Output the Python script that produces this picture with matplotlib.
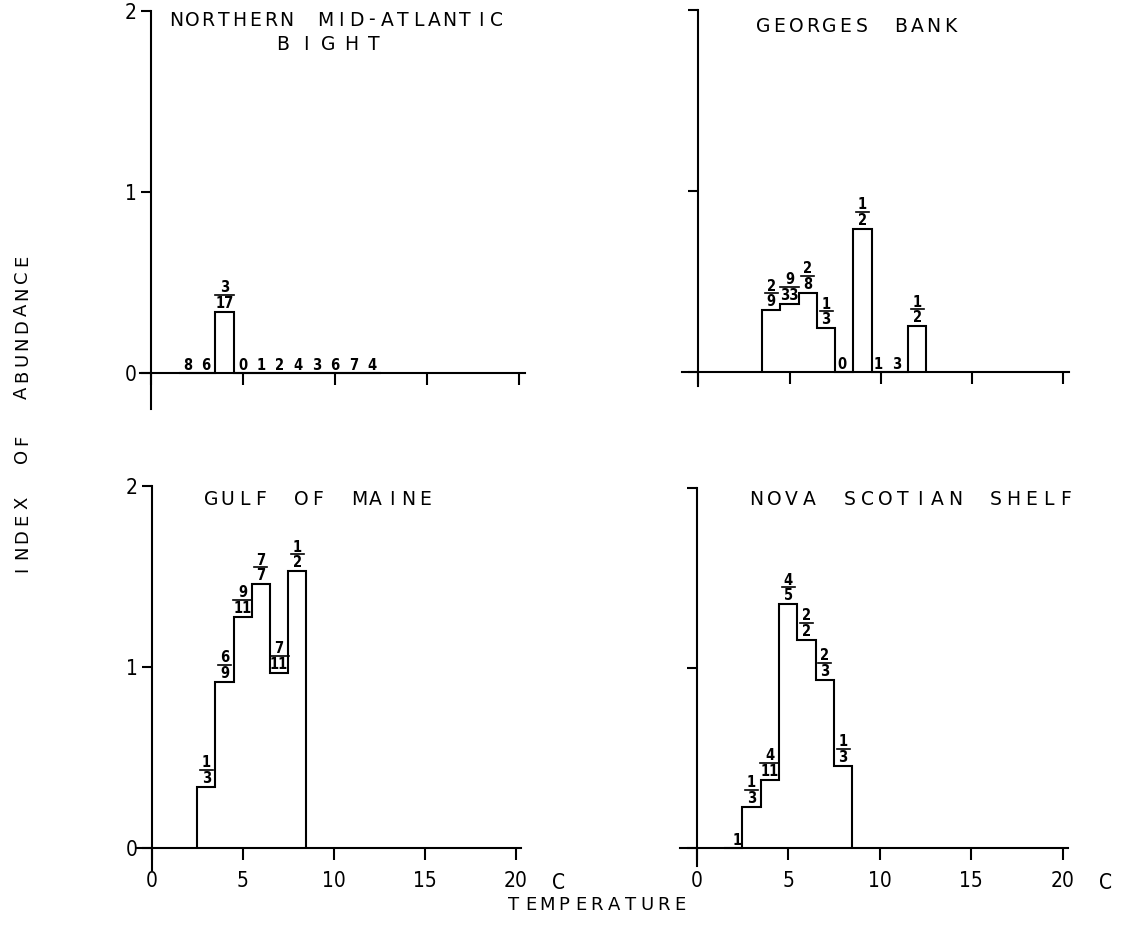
import matplotlib
matplotlib.use("Agg")
import matplotlib.pyplot as plt
import numpy as np

# ---------------- data ----------------
# Northern Mid-Atlantic Bight
nmab_centers = [2, 3, 4, 5, 6, 7, 8, 9, 10, 11, 12]
nmab_index = [0, 0, 0.34, 0, 0, 0, 0, 0, 0, 0, 0]
nmab_pos = [0, 0, 3, 0, 0, 0, 0, 0, 0, 0, 0]
nmab_tot = [8, 6, 17, 0, 1, 2, 4, 3, 6, 7, 4]

# Georges Bank
gb_centers = [4, 5, 6, 7, 8, 9, 10, 11, 12]
gb_index = [0.34, 0.375, 0.435, 0.24, 0, 0.79, 0, 0, 0.25]
gb_pos = [2, 9, 2, 1, 0, 1, 0, 0, 1]
gb_tot = [9, 33, 8, 3, 0, 2, 1, 3, 2]

# Gulf of Maine
gom_centers = [3, 4, 5, 6, 7, 8]
gom_index = [0.34, 0.92, 1.28, 1.46, 0.97, 1.53]
gom_pos = [1, 6, 9, 7, 7, 1]
gom_tot = [3, 9, 11, 7, 11, 2]

# Nova Scotian Shelf
nss_centers = [2, 3, 4, 5, 6, 7, 8]
nss_index = [0, 0.23, 0.38, 1.355, 1.16, 0.935, 0.46]
nss_pos = [0, 1, 4, 4, 2, 2, 1]
nss_tot = [1, 3, 11, 5, 2, 3, 3]

x_ticks = [0, 5, 10, 15, 20]
x_ticklabels = ["0", "5", "10", "15", "20"]
y_ticks = [0, 1, 2]
y_ticklabels = ["0", "1", "2"]

# ---------------- figure ----------------
W, H = 1122, 941
DPI = 100
fig = plt.figure(figsize=(W / DPI, H / DPI), dpi=DPI)
plt.rcParams["font.family"] = ["DejaVu Sans"]

STRETCH = "condensed"
LW = 1.5
XL = (-1.0, 21.0)
YL = (-0.3, 2.1)


def make_ax(x0, y0, sx, sy, xlabels, ylabels, ybottom=-0.15, xleft=-0.75):
    left = x0 + XL[0] * sx
    right = x0 + XL[1] * sx
    top = y0 - YL[1] * sy
    bottom = y0 - YL[0] * sy
    ax = fig.add_axes([left / W, 1 - bottom / H, (right - left) / W, (bottom - top) / H])
    ax.set_xlim(XL)
    ax.set_ylim(YL)
    ax.patch.set_alpha(0)
    for s in ("top", "right"):
        ax.spines[s].set_visible(False)
    ax.spines["left"].set_position(("data", 0))
    ax.spines["bottom"].set_position(("data", 0))
    ax.spines["left"].set_bounds(ybottom, 2)
    ax.spines["bottom"].set_bounds(xleft, 20.3)
    for s in ("left", "bottom"):
        ax.spines[s].set_linewidth(LW)
    ax.set_xticks(x_ticks)
    ax.set_yticks(y_ticks)
    ax.tick_params(axis="x", direction="out", length=8.5, width=LW, pad=8,
                   labelsize=15, labelbottom=xlabels)
    ax.tick_params(axis="y", direction="out", length=7, width=LW, pad=3,
                   labelsize=15, labelleft=ylabels)
    if xlabels:
        ax.set_xticklabels(x_ticklabels, fontstretch=STRETCH)
    if ylabels:
        ax.set_yticklabels(y_ticklabels, fontstretch=STRETCH)
    return ax


FFS = 10.5


def fraction(ax, cx, top, num, den, fs=FFS):
    X, Y = ax.transData.transform((cx, top))
    n = max(len(str(num)), len(str(den)))
    w = 6.0 * n + 7
    kw = dict(transform=None, ha="center", va="baseline", fontsize=fs,
              fontweight="bold", fontstretch=STRETCH)
    fig.text(X, Y + 4, str(den), **kw)
    fig.add_artist(plt.Line2D([X - w / 2, X + w / 2], [Y + 17, Y + 17],
                              transform=None, color="k", lw=1.2))
    fig.text(X, Y + 19.5, str(num), **kw)


def zero_label(ax, cx, tot, dx=0.0, fs=FFS):
    X, Y = ax.transData.transform((cx + dx, 0))
    fig.text(X, Y + 3, str(tot), transform=None, ha="center", va="baseline",
             fontsize=fs, fontweight="bold", fontstretch=STRETCH)


def draw_panel(ax, centers, index, pos, tot, zdx=0.0):
    c = np.asarray(centers, dtype=float)
    edges = np.append(c - 0.5, c[-1] + 0.5)
    ax.stairs(index, edges, baseline=0, color="k", lw=LW)
    for cx, v, p, t in zip(c, index, pos, tot):
        if v > 0:
            fraction(ax, cx, v, p, t)
        else:
            zero_label(ax, cx, t, dx=zdx)


def spaced(x, y, s, adv, gap, fs, rotation=0, vertical=False,
           weight="normal", stretch="normal"):
    # x, y in pixels from top-left; x is first char center
    pos = []
    cur = 0.0
    prev_space = False
    first = True
    for ch in s:
        if ch == " ":
            prev_space = True
            continue
        if not first:
            cur += gap if prev_space else adv
        pos.append((cur, ch))
        prev_space = False
        first = False
    for d, ch in pos:
        if vertical:
            px, py = x, y - d
        else:
            px, py = x + d, y
        fig.text(px / W, 1 - py / H, ch, ha="center", va="center",
                 fontsize=fs, rotation=rotation, fontweight=weight,
                 fontstretch=stretch)


ax_tl = make_ax(151.0, 373.3, 18.4, 181, False, True, ybottom=-0.2, xleft=-0.6)
ax_tr = make_ax(698.3, 371.7, 18.25, 181, False, False, ybottom=-0.08, xleft=-0.9)
ax_bl = make_ax(151.7, 848.3, 18.2, 181, True, True, ybottom=-0.12, xleft=-0.82)
ax_br = make_ax(696.7, 848.3, 18.3, 180, True, False, ybottom=-0.1, xleft=-0.9)

draw_panel(ax_tl, nmab_centers, nmab_index, nmab_pos, nmab_tot)
draw_panel(ax_tr, gb_centers, gb_index, gb_pos, gb_tot, zdx=-0.15)
draw_panel(ax_bl, gom_centers, gom_index, gom_pos, gom_tot)
draw_panel(ax_br, nss_centers, nss_index, nss_pos, nss_tot, zdx=0.2)

# "C" units after 20
for ax in (ax_bl, ax_br):
    X, Y = ax.transData.transform((20, 0))
    fig.text(X + 43, Y - 35, "C", transform=None, ha="center", va="center",
             fontsize=15, fontstretch=STRETCH)

# titles
TFS = 13.5
spaced(176.6, 20, "NORTHERN MID-ATLANTIC", 15.6, 39, TFS)
spaced(283, 44, "BIGHT", 22.75, 22.75, TFS)
spaced(763, 26, "GEORGES BANK", 16.5, 38.5, TFS)
spaced(211, 500, "GULF OF MAINE", 16.5, 41, TFS)
spaced(756.5, 500, "NOVA SCOTIAN SHELF", 17.5, 41, TFS)

# axis labels
spaced(22, 569, "INDEX OF ABUNDANCE", 16.5, 47, 13, rotation=90, vertical=True)
spaced(514, 905, "TEMPERATURE", 16.6, 16.6, 13)

fig.savefig("out.png", dpi=DPI)
